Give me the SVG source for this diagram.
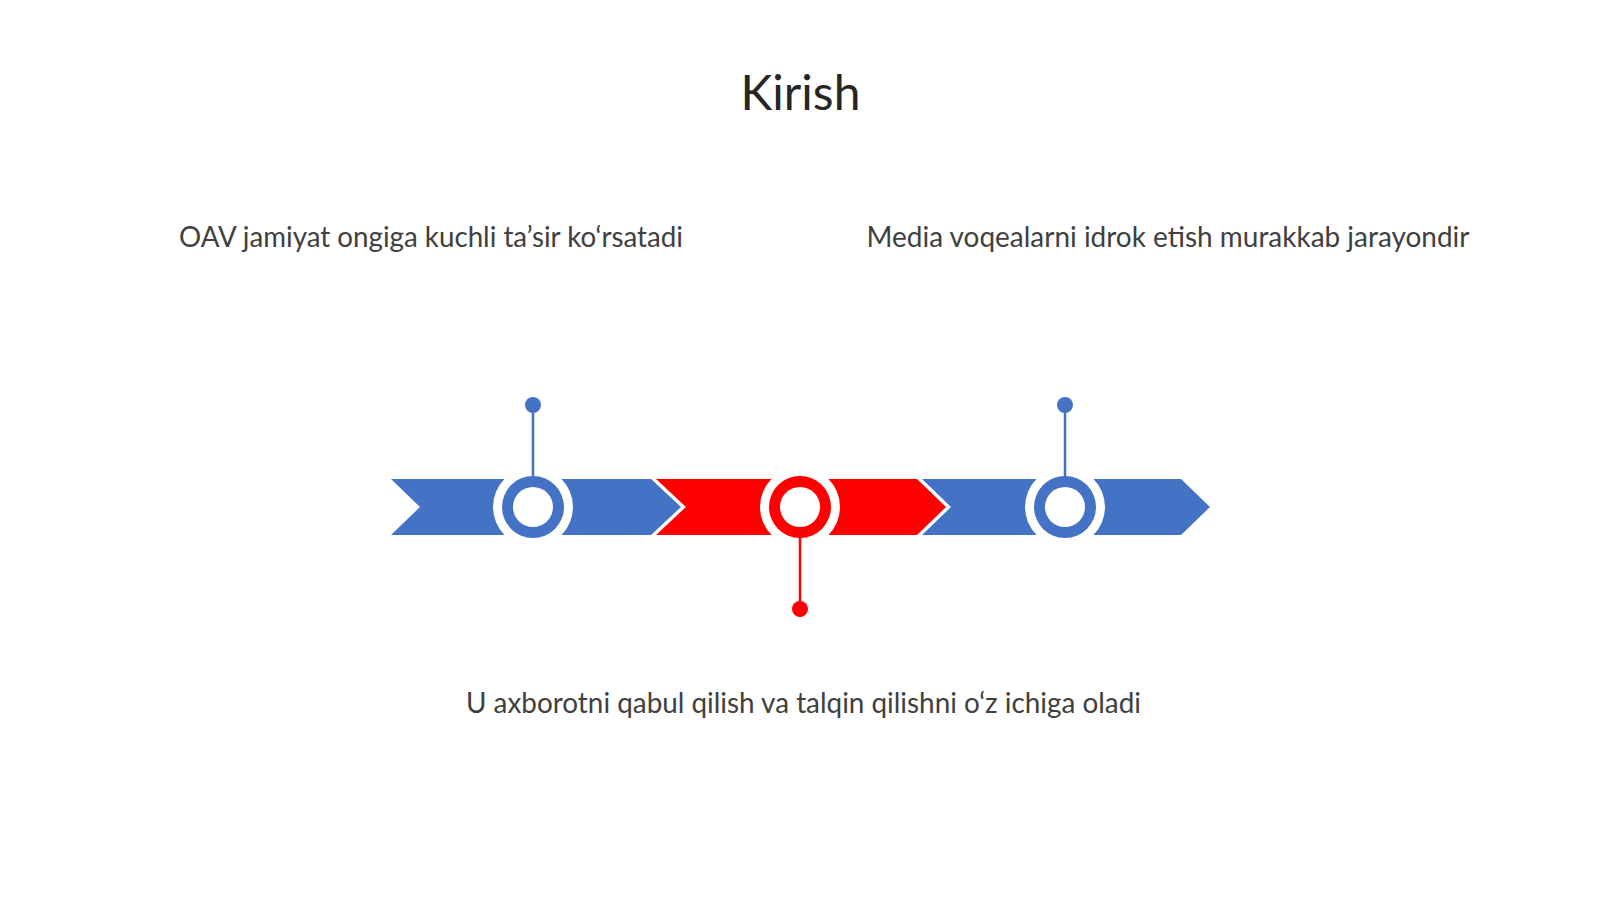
<svg xmlns="http://www.w3.org/2000/svg" width="1600" height="899" viewBox="0 0 1600 899">
<style>
.t{font-family:Lato,"Noto Sans",sans-serif;fill:#333333;text-anchor:middle}
.title{font-size:48px;fill:#262626}
.lbl{font-size:28px;fill:#404040}
.blue{fill:#4472C4}
.red{fill:#FF0000}
.halo{fill:#FFFFFF}
.inner{fill:#FFFFFF}
.stemB{stroke:#4472C4;stroke-width:2.5}
.stemR{stroke:#FF0000;stroke-width:2.5}
</style>
<rect width="1600" height="899" fill="#FFFFFF"/>
<text class="t title" x="800.5" y="109.5">Kirish</text>
<g id="chevrons">
<polygon id="chev1" class="blue" points="391,479 651,479 681,507 651,535 391,535 420,507"/>
<polygon id="chev2" class="red" points="656,479 917,479 946,507 917,535 656,535 686,507"/>
<polygon id="chev3" class="blue" points="922,479 1181,479 1210,507 1181,535 922,535 951,507"/>
</g>
<g id="node1">
<circle class="halo" cx="533" cy="507" r="40"/>
<circle class="blue" cx="533" cy="507" r="31"/>
<circle class="inner" cx="533" cy="507" r="20"/>
<circle class="blue" cx="533" cy="405" r="8"/>
<text class="t lbl" x="431" y="247" textLength="504" lengthAdjust="spacingAndGlyphs">OAV jamiyat ongiga kuchli ta’sir ko‘rsatadi</text>
</g>
<g id="node2">
<circle class="halo" cx="800" cy="507" r="40"/>
<circle class="red" cx="800" cy="507" r="31"/>
<circle class="inner" cx="800" cy="507" r="20"/>
<circle class="red" cx="800" cy="609" r="8"/>
<text class="t lbl" x="803.5" y="713" textLength="675" lengthAdjust="spacingAndGlyphs">U axborotni qabul qilish va talqin qilishni o‘z ichiga oladi</text>
</g>
<g id="node3">
<circle class="halo" cx="1065" cy="507" r="40"/>
<circle class="blue" cx="1065" cy="507" r="31"/>
<circle class="inner" cx="1065" cy="507" r="20"/>
<circle class="blue" cx="1065" cy="405" r="8"/>
<text class="t lbl" x="1168" y="247" textLength="603" lengthAdjust="spacingAndGlyphs">Media voqealarni idrok etish murakkab jarayondir</text>
</g>
<g id="connectors">
<line class="stemB" x1="533" y1="405" x2="533" y2="477"/>
<line class="stemR" x1="800" y1="537" x2="800" y2="609"/>
<line class="stemB" x1="1065" y1="405" x2="1065" y2="477"/>
</g>
</svg>
